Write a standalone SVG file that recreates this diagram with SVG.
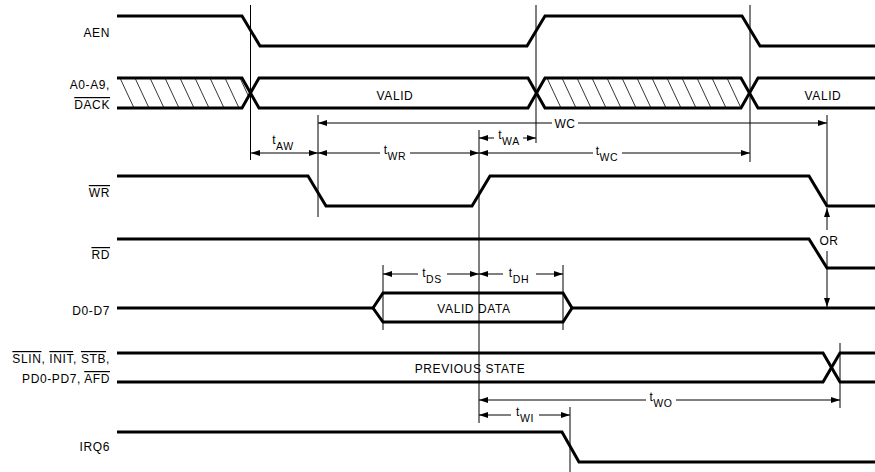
<svg xmlns="http://www.w3.org/2000/svg" width="875" height="472" viewBox="0 0 875 472">
<defs>
<style>
.sig{fill:none;stroke:#000;stroke-width:3}
.thin{fill:none;stroke:#000;stroke-width:1}
.hatch{fill:none;stroke:#000;stroke-width:0.8}
.arr{fill:none;stroke:#000;stroke-width:1}
.ae{marker-end:url(#ah)}
.as{marker-start:url(#ah)}
text{font-family:"Liberation Sans",Arial,sans-serif;font-size:12px;fill:#000;letter-spacing:0.6px}
.lbl{text-anchor:end}
.mid{text-anchor:middle}
.sub{font-size:10.5px}
.ov{text-decoration:overline}
</style>
<marker id="ah" viewBox="0 0 9 6" refX="9" refY="3" markerWidth="9" markerHeight="6" markerUnits="userSpaceOnUse" orient="auto-start-reverse">
<path d="M0,0 L9,3 L0,6 z" fill="#000"/>
</marker>
<clipPath id="h1"><polygon points="117,78 242,78 250.5,93 242,108 117,108"/></clipPath>
<clipPath id="h2"><polygon points="537,93 545,78 741,78 749.5,93 741,108 545,108"/></clipPath>
</defs>

<g id="labels">
<text class="lbl" x="110" y="37">AEN</text>
<text class="lbl" x="110" y="89">A0-A9,</text>
<text class="lbl" x="110" y="109"><tspan class="ov">DACK</tspan></text>
<text class="lbl" x="110" y="197"><tspan class="ov">WR</tspan></text>
<text class="lbl" x="110" y="259"><tspan class="ov">RD</tspan></text>
<text class="lbl" x="110" y="315">D0-D7</text>
<text class="lbl" x="110" y="363"><tspan class="ov">SLIN</tspan>, <tspan class="ov">INIT</tspan>, <tspan class="ov">STB</tspan>,</text>
<text class="lbl" x="110" y="383">PD0-PD7, <tspan class="ov">AFD</tspan></text>
<text class="lbl" x="110" y="451">IRQ6</text>
</g>

<g id="AEN">
<polyline class="sig" points="117,16 242,16 260,46 527,46 545,16 742,16 760,46 875,46"/>
</g>

<g id="A0-A9">
<polyline class="sig" points="117,78 242,78 259,108 528,108 545,78 741,78 758,108 875,108"/>
<polyline class="sig" points="117,108 242,108 259,78 528,78 545,108 741,108 758,78 875,78"/>
<g clip-path="url(#h1)" class="hatch">
<line x1="120" y1="78" x2="134" y2="108"/><line x1="135" y1="78" x2="149" y2="108"/>
<line x1="150" y1="78" x2="164" y2="108"/><line x1="165" y1="78" x2="179" y2="108"/>
<line x1="180" y1="78" x2="194" y2="108"/><line x1="195" y1="78" x2="209" y2="108"/>
<line x1="210" y1="78" x2="224" y2="108"/><line x1="225" y1="78" x2="239" y2="108"/>
<line x1="240" y1="78" x2="254" y2="108"/>
</g>
<g clip-path="url(#h2)" class="hatch">
<line x1="547" y1="78" x2="561" y2="108"/><line x1="562" y1="78" x2="576" y2="108"/>
<line x1="577" y1="78" x2="591" y2="108"/><line x1="592" y1="78" x2="606" y2="108"/>
<line x1="607" y1="78" x2="621" y2="108"/><line x1="622" y1="78" x2="636" y2="108"/>
<line x1="637" y1="78" x2="651" y2="108"/><line x1="652" y1="78" x2="666" y2="108"/>
<line x1="667" y1="78" x2="681" y2="108"/><line x1="682" y1="78" x2="696" y2="108"/>
<line x1="697" y1="78" x2="711" y2="108"/><line x1="712" y1="78" x2="726" y2="108"/>
<line x1="727" y1="78" x2="741" y2="108"/><line x1="742" y1="78" x2="756" y2="108"/>
</g>
<text class="mid" x="395" y="100">VALID</text>
<text class="mid" x="823" y="100">VALID</text>
</g>

<g id="WR">
<polyline class="sig" points="117,176 308,176 326,206 472,206 490,176 809,176 827,206 875,206"/>
</g>

<g id="RD">
<polyline class="sig" points="117,239 809,239 827,268 875,268"/>
</g>

<g id="D0-D7">
<polyline class="sig" points="117,308 373,308"/>
<polygon class="sig" points="373,308 383,293 563,293 572,308 563,322 383,322"/>
<polyline class="sig" points="572,308 875,308"/>
<text class="mid" x="474" y="313">VALID DATA</text>
</g>

<g id="SLIN">
<polyline class="sig" points="117,353 823,353 840,382 875,382"/>
<polyline class="sig" points="117,382 823,382 840,353 875,353"/>
<text class="mid" x="470" y="373">PREVIOUS STATE</text>
</g>

<g id="IRQ6">
<polyline class="sig" points="117,432 562,432 579,462 875,462"/>
</g>

<g id="connectors">
<line class="thin" x1="250.5" y1="5" x2="250.5" y2="160"/>
<line class="thin" x1="318" y1="115" x2="318" y2="217"/>
<line class="thin" x1="479" y1="130" x2="479" y2="423"/>
<line class="thin" x1="536" y1="5" x2="536" y2="143"/>
<line class="thin" x1="750" y1="5" x2="750" y2="162"/>
<line class="thin" x1="827" y1="115" x2="827" y2="206"/>
<line class="thin" x1="383" y1="265" x2="383" y2="330"/>
<line class="thin" x1="563" y1="265" x2="563" y2="330"/>
<line class="thin" x1="840" y1="343" x2="840" y2="408"/>
<line class="thin" x1="570" y1="407" x2="570" y2="472"/>

<line class="arr as ae" x1="251" y1="153" x2="318" y2="153"/>
<text class="mid" x="283" y="144">t<tspan class="sub" dy="6">AW</tspan></text>

<line class="arr as" x1="318" y1="123" x2="552" y2="123"/>
<line class="arr ae" x1="578" y1="123" x2="827" y2="123"/>
<text class="mid" x="565" y="128">WC</text>

<line class="arr as" x1="318" y1="153" x2="380" y2="153"/>
<line class="arr ae" x1="410" y1="153" x2="479" y2="153"/>
<text class="mid" x="395" y="154">t<tspan class="sub" dy="6">WR</tspan></text>

<line class="arr as" x1="479" y1="138" x2="494" y2="138"/>
<line class="arr ae" x1="523" y1="138" x2="536" y2="138"/>
<text class="mid" x="509" y="139">t<tspan class="sub" dy="6">WA</tspan></text>

<line class="arr as" x1="479" y1="153" x2="593" y2="153"/>
<line class="arr ae" x1="622" y1="153" x2="750" y2="153"/>
<text class="mid" x="607" y="155">t<tspan class="sub" dy="6">WC</tspan></text>

<line class="arr as" x1="827" y1="208" x2="827" y2="230"/>
<line class="arr ae" x1="827" y1="251" x2="827" y2="307"/>
<text class="mid" x="829" y="245">OR</text>

<line class="arr as" x1="383" y1="274" x2="418" y2="274"/>
<line class="arr ae" x1="447" y1="274" x2="479" y2="274"/>
<text class="mid" x="432" y="277">t<tspan class="sub" dy="6">DS</tspan></text>

<line class="arr as" x1="479" y1="274" x2="503" y2="274"/>
<line class="arr ae" x1="536" y1="274" x2="563" y2="274"/>
<text class="mid" x="519" y="277">t<tspan class="sub" dy="6">DH</tspan></text>

<line class="arr as" x1="479" y1="400" x2="646" y2="400"/>
<line class="arr ae" x1="676" y1="400" x2="840" y2="400"/>
<text class="mid" x="661" y="401">t<tspan class="sub" dy="6">WO</tspan></text>

<line class="arr as" x1="479" y1="415" x2="511" y2="415"/>
<line class="arr ae" x1="539" y1="415" x2="570" y2="415"/>
<text class="mid" x="525" y="416">t<tspan class="sub" dy="6">WI</tspan></text>
</g>
</svg>
